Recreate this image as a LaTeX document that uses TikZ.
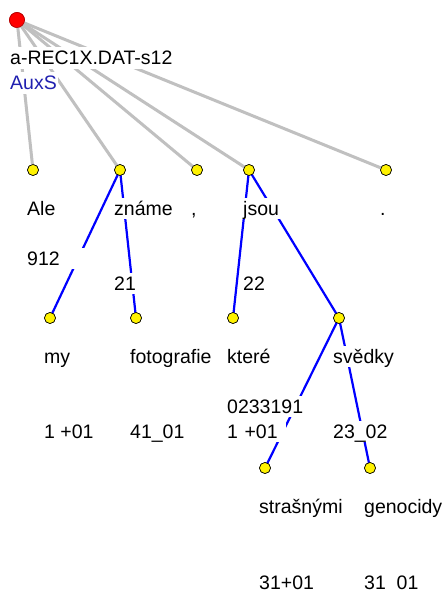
\documentclass[tikz,border=0pt]{standalone}
\usepackage{fontspec}
\setmainfont{Liberation Sans}
\begin{document}
\begin{tikzpicture}[x=1pt,y=-1pt,
  tnode/.style={circle,draw=black,line width=0.6pt,fill=yellow,minimum size=11pt,inner sep=0pt},
  rootnode/.style={circle,draw=red!70!black,line width=0.6pt,fill=red,minimum size=15pt,inner sep=0pt},
  lbl/.style={anchor=base west,fill=white,inner xsep=1pt,inner ysep=0pt,
    text height=17.5pt,text depth=4pt,font=\fontsize{19.5}{25}\selectfont},
  widelbl/.style={lbl,text width=58pt,align=left},
  auxlbl/.style={lbl,text={rgb,255:red,32;green,32;blue,176}},
  rootedge/.style={draw={rgb,255:red,192;green,192;blue,192},line width=3pt},
  depedge/.style={draw=blue,line width=2.2pt}]
\useasboundingbox[fill=white] (0,0) rectangle (447,591);

% tree nodes
\node[rootnode] (root) at (17,20) {};
\node[tnode] (ale) at (33,170) {};
\node[tnode] (zname) at (120,170) {};
\node[tnode] (comma) at (197,170) {};
\node[tnode] (jsou) at (249,170) {};
\node[tnode] (period) at (386,170) {};
\node[tnode] (my) at (50,318) {};
\node[tnode] (foto) at (136,318) {};
\node[tnode] (ktere) at (233,318) {};
\node[tnode] (svedky) at (339,318) {};
\node[tnode] (strasnymi) at (265,468) {};
\node[tnode] (genocidy) at (370,468) {};

% edges from the technical root
\draw[rootedge] (root.center) -- (ale.center);
\draw[rootedge] (root.center) -- (zname.center);
\draw[rootedge] (root.center) -- (comma.center);
\draw[rootedge] (root.center) -- (jsou.center);
\draw[rootedge] (root.center) -- (period.center);

% dependency edges
\draw[depedge] (zname.center) -- (my.center);
\draw[depedge] (zname.center) -- (foto.center);
\draw[depedge] (jsou.center) -- (ktere.center);
\draw[depedge] (jsou.center) -- (svedky.center);
\draw[depedge] (svedky.center) -- (strasnymi.center);
\draw[depedge] (svedky.center) -- (genocidy.center);

% node discs redrawn over the edge ends
\node[rootnode] at (root) {};
\foreach \n in {ale,zname,comma,jsou,period,my,foto,ktere,svedky,strasnymi,genocidy}
  \node[tnode] at (\n) {};

% labels
\node[lbl] (rootL1) at (9,65) {a-REC1X.DAT-s12};
\node[auxlbl] (rootL2) at (9,90) {AuxS};

\node[lbl] (aleL1) at (26,215) {Ale};
\node[widelbl] (aleL3) at (26,265) {912};
\node[lbl] (znameL1) at (113,215) {známe};
\node[lbl] (znameL4) at (113,290) {21};
\node[lbl] (commaL1) at (190,215) {,};
\node[lbl] (jsouL1) at (242,215) {jsou};
\node[lbl] (jsouL4) at (242,290) {22};
\node[lbl] (periodL1) at (379,215) {.};

\node[lbl] (myL1) at (43,363) {my};
\node[lbl] (myL4) at (43,438) {1 +01};
\node[lbl] (fotoL1) at (129,363) {fotografie};
\node[lbl] (fotoL4) at (129,438) {41\_01};
\node[lbl] (ktereL1) at (226,363) {které};
\node[lbl] (ktereL3) at (226,413) {0233191};
\node[widelbl] (ktereL4) at (226,438) {1 +01};
\node[lbl] (svedkyL1) at (332,363) {svědky};
\node[lbl] (svedkyL4) at (332,438) {23\_02};

\node[lbl] (strasnymiL1) at (258,513) {strašnými};
\node[lbl] (strasnymiL4) at (258,589) {31+01};
\node[lbl] (genocidyL1) at (363,513) {genocidy};
\node[lbl] (genocidyL4) at (363,589) {31\_01};
\end{tikzpicture}
\end{document}
